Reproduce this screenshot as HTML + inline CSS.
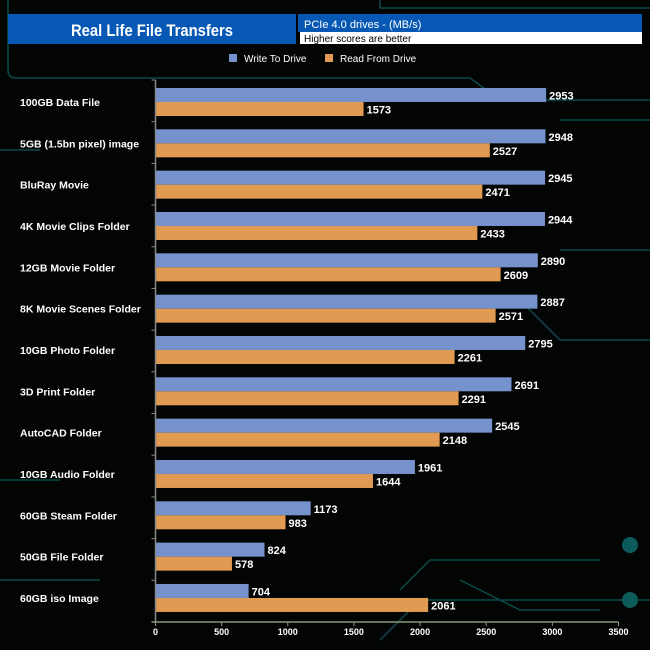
<!DOCTYPE html>
<html><head><meta charset="utf-8"><style>
body{margin:0;background:#000;}
svg{display:block;font-family:"Liberation Sans Narrow","Liberation Sans",Arial,sans-serif;}
</style></head><body>
<svg id="c" width="650" height="650" viewBox="0 0 650 650">
<rect width="650" height="650" fill="#030404"/>
<g stroke="#0c4a4a" stroke-width="1.5" fill="none">
<path d="M8 0 V70 Q8 78 16 78 H470 L500 100 H650"/>
<path d="M380 0 V8 H650"/>
<path d="M560 120 H650 M560 250 H650 M520 300 L560 340 H650"/>
<path d="M400 590 L430 560 H600 M380 640 L420 600 H650 M460 580 L520 610 H600"/>
<path d="M0 150 H40 M0 480 H60 M0 580 H100"/>
</g>
<circle cx="630" cy="600" r="8" fill="#0c5a5a"/>
<circle cx="630" cy="545" r="8" fill="#0c5a5a"/>
<rect x="8" y="14" width="288" height="30" fill="#0758b5"/>
<text x="152" y="36" text-anchor="middle" fill="#fff" font-size="17" font-weight="bold" textLength="162" lengthAdjust="spacingAndGlyphs">Real Life File Transfers</text>
<rect x="298" y="14" width="344" height="18" fill="#0758b5"/>
<rect x="300" y="32" width="342" height="12" fill="#fff"/>
<text x="304" y="28" fill="#fff" font-size="11">PCIe 4.0 drives - (MB/s)</text>
<text x="304" y="42" fill="#000" font-size="10">Higher scores are better</text>
<g>
<rect x="229" y="54" width="8" height="8" fill="#7592cd"/>
<text x="244" y="62" fill="#fff" font-size="10">Write To  Drive</text>
<rect x="325" y="54" width="8" height="8" fill="#e09a52"/>
<text x="340" y="62" fill="#fff" font-size="10">Read From  Drive</text>
</g>
<g id="plot"></g>
</svg>
<script>
const categories=["100GB Data File","5GB (1.5bn pixel) image","BluRay Movie","4K Movie Clips Folder","12GB Movie Folder","8K Movie Scenes Folder","10GB Photo Folder","3D Print Folder","AutoCAD Folder","10GB Audio Folder","60GB Steam Folder","50GB File Folder","60GB iso Image"];
const writeValues=[2953,2948,2945,2944,2890,2887,2795,2691,2545,1961,1173,824,704];
const readValues=[1573,2527,2471,2433,2609,2571,2261,2291,2148,1644,983,578,2061];
const xTicks=[0,500,1000,1500,2000,2500,3000,3500];
const NS="http://www.w3.org/2000/svg";
const g=document.getElementById('plot');
const x0=155.5,x1=618.5,xMax=3500,yTop=80,yBot=622,gStart=88,pitch=41.33,bh=14;
function X(v){return x0+(x1-x0)*v/xMax;}
function Y(i){return gStart+i*pitch;}
function el(t,a,txt){const e=document.createElementNS(NS,t);for(const k in a)e.setAttribute(k,a[k]);if(txt!==undefined)e.textContent=txt;g.appendChild(e);return e;}
categories.forEach((c,i)=>{
 const y=Y(i);
 let b=el('rect',{x:x0,y:y,width:X(writeValues[i])-x0,height:bh,fill:'#7592cd'});
 
 
 let v=el('text',{x:X(writeValues[i])+3,y:y+11.5,fill:'#fff','font-size':'11','font-weight':'bold'},writeValues[i]);
 
 
 let r=el('rect',{x:x0,y:y+bh,width:X(readValues[i])-x0,height:bh,fill:'#e09a52'});
 
 
 let rv=el('text',{x:X(readValues[i])+3,y:y+bh+11.5,fill:'#fff','font-size':'11','font-weight':'bold'},readValues[i]);
 
 
 let l=el('text',{x:20,y:y+bh+4,fill:'#fff','font-size':'10.5','font-weight':'bold'},c);
 
 
 let t=el('line',{x1:x0-4,x2:x0,y1:yTop+i*(yBot-yTop)/13,y2:yTop+i*(yBot-yTop)/13,stroke:'#888'});
 
 
});
let ya=el('line',{x1:x0,x2:x0,y1:yTop,y2:yBot,stroke:'#888','stroke-width':1.5});


let xa=el('line',{x1:x0-4,x2:x1,y1:yBot,y2:yBot,stroke:'#8a9a7a','stroke-width':1.5});


xTicks.forEach(v=>{
 let t=el('line',{x1:X(v),x2:X(v),y1:yBot,y2:yBot+4,stroke:'#8a9a7a'});
 
 
 let l=el('text',{x:X(v),y:yBot+13,fill:'#fff','font-size':'9','font-weight':'bold','text-anchor':'middle'},v);
 
 
});
</script>
</body></html>
